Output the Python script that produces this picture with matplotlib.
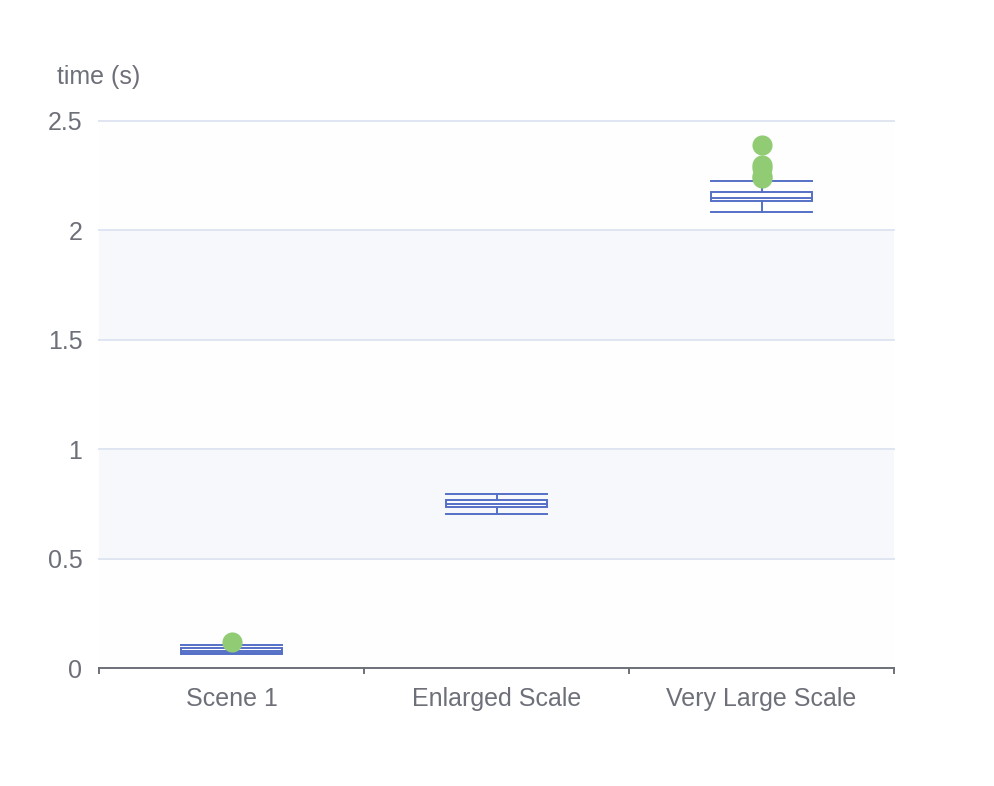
import matplotlib
matplotlib.use("Agg")
import matplotlib.pyplot as plt

categories = ["Scene 1", "Enlarged Scale", "Very Large Scale"]
whislo = [0.066, 0.705, 2.085]
q1 = [0.068, 0.737, 2.136]
med = [0.078, 0.751, 2.150]
q3 = [0.090, 0.768, 2.174]
whishi = [0.105, 0.794, 2.227]
outliers = [[0.117], [], [2.390, 2.300, 2.285, 2.250, 2.238]]
yticks = [0, 0.5, 1, 1.5, 2, 2.5]
ytick_labels = ["0", "0.5", "1", "1.5", "2", "2.5"]

plt.rcParams['font.family'] = ['Liberation Sans', 'DejaVu Sans']
W, H = 994, 786
fig = plt.figure(figsize=(W / 100, H / 100), dpi=100)
ax = fig.add_axes([99 / W, 1 - 668 / H, (894 - 99) / W, (668 - 121) / H])

axis_col = "#6E7079"
grid_col = "#E0E6F1"
box_col = "#5470c6"
out_col = "#91cc75"
fs = 18

ax.set_xlim(-0.5, len(categories) - 0.5)
ax.set_ylim(0, 2.5)

# split area bands
band_cols = ["#fefefe", "#f6f8fb"]
for i in range(len(yticks) - 1):
    ax.axhspan(yticks[i], yticks[i + 1], color=band_cols[i % 2], zorder=0, lw=0)
for t in yticks[1:]:
    ax.axhline(t, color=grid_col, lw=1.4, zorder=1, clip_on=False)

stats = []
for i, c in enumerate(categories):
    stats.append(dict(label=c, whislo=whislo[i], q1=q1[i], med=med[i],
                      q3=q3[i], whishi=whishi[i], fliers=[]))
bw = 0.38
ax.bxp(stats, positions=list(range(len(categories))), widths=bw,
       showfliers=False, patch_artist=True,
       boxprops=dict(facecolor="white", edgecolor=box_col, lw=1.4),
       medianprops=dict(color=box_col, lw=1.4),
       whiskerprops=dict(color=box_col, lw=1.4),
       capprops=dict(color=box_col, lw=1.4),
       capwidths=bw, zorder=3)

for i, outs in enumerate(outliers):
    if outs:
        ax.scatter([i] * len(outs), outs, s=210, color=out_col, zorder=5, lw=0)

for s in ["top", "right", "left"]:
    ax.spines[s].set_visible(False)
ax.spines["bottom"].set_color(axis_col)
ax.spines["bottom"].set_linewidth(1.4)
ax.spines["bottom"].set_zorder(4)

ax.set_yticks(yticks)
ax.set_yticklabels(ytick_labels)
ax.tick_params(axis="y", length=0, pad=12, labelsize=fs, labelcolor=axis_col)

ax.set_xticks(list(range(len(categories))))
ax.set_xticklabels(categories)
ax.tick_params(axis="x", length=0, pad=14, labelsize=fs, labelcolor=axis_col)
for b in [i - 0.5 for i in range(len(categories) + 1)]:
    ax.plot([b, b], [0, -0.025], color=axis_col, lw=1.4, clip_on=False, zorder=4)

fig.text(99 / W, 1 - 77 / H, "time (s)", ha="center", va="center",
         fontsize=fs, color=axis_col)

fig.savefig("out.png", dpi=100)
